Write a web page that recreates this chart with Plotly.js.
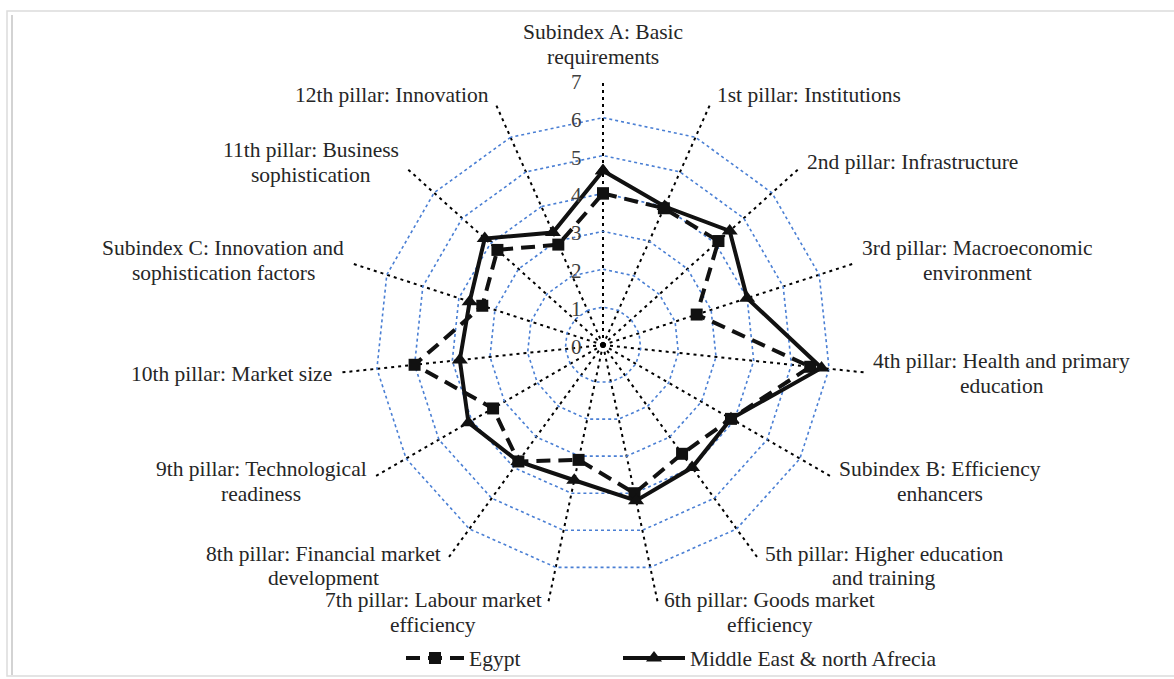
<!DOCTYPE html>
<html>
<head>
<meta charset="utf-8">
<script src="https://cdn.plot.ly/plotly-3.0.1.min.js"></script>
<style>
html,body{margin:0;padding:0;background:#fff;}
#chart{width:1174px;height:679px;}
</style>
</head>
<body>
<div id="chart"></div>
<script>
// ---- data ----
const categories = [
  "Subindex A: Basic requirements",
  "1st pillar: Institutions",
  "2nd pillar: Infrastructure",
  "3rd pillar: Macroeconomic environment",
  "4th pillar: Health and primary education",
  "Subindex B: Efficiency enhancers",
  "5th pillar: Higher education and training",
  "6th pillar: Goods market efficiency",
  "7th pillar: Labour market efficiency",
  "8th pillar: Financial market development",
  "9th pillar: Technological readiness",
  "10th pillar: Market size",
  "Subindex C: Innovation and sophistication factors",
  "11th pillar: Business sophistication",
  "12th pillar: Innovation"
];
const tickLabels = [
  ["Subindex A: Basic", "requirements"],
  ["1st pillar: Institutions"],
  ["2nd pillar: Infrastructure"],
  ["3rd pillar: Macroeconomic", "environment"],
  ["4th pillar: Health and primary", "education"],
  ["Subindex B: Efficiency", "enhancers"],
  ["5th pillar: Higher education", "and training"],
  ["6th pillar: Goods market", "efficiency"],
  ["7th pillar: Labour market", "efficiency"],
  ["8th pillar: Financial market", "development"],
  ["9th pillar: Technological", "readiness"],
  ["10th pillar: Market size"],
  ["Subindex C: Innovation and", "sophistication factors"],
  ["11th pillar: Business", "sophistication"],
  ["12th pillar: Innovation"]
];
const egypt = [4.0, 3.95, 4.1, 2.6, 5.5, 3.9, 3.55, 4.0, 3.1, 3.8, 3.35, 5.0, 3.35, 3.75, 2.9];
const mena  = [4.6, 4.0, 4.5, 4.0, 5.8, 3.9, 4.0, 4.2, 3.65, 3.8, 4.1, 3.8, 3.7, 4.2, 3.25];
const radialTicks = [0, 1, 2, 3, 4, 5, 6, 7];
const radialMax = 7;
const seriesNames = ["Egypt", "Middle East & north Afrecia"];

// ---- layout geometry ----
const W = 1174, H = 679;
const dom = {x: [0.28705, 0.74021], y: [0.09867, 0.88218]};
const FONT = "Liberation Serif";
const FS = 21.5;
const LINE = 25;

function closed(arr){ return arr.concat([arr[0]]); }

const traces = [
  {
    type: "scatterpolar", name: seriesNames[0], legend: "legend",
    r: closed(egypt), theta: closed(categories),
    mode: "lines+markers",
    line: {color: "#111", width: 4, dash: "14px,8px"},
    marker: {symbol: "square", size: 12, color: "#111"},
    cliponaxis: false
  },
  {
    type: "scatterpolar", name: seriesNames[1], legend: "legend2",
    r: closed(mena), theta: closed(categories),
    mode: "lines+markers",
    line: {color: "#111", width: 4},
    marker: {symbol: "triangle-up", size: 14, color: "#111"},
    cliponaxis: false
  }
];

// text measuring for centred multi-line labels
const ctx = document.createElement("canvas").getContext("2d");
ctx.font = FS + "px '" + FONT + "'";
function tw(s){ return ctx.measureText(s).width; }

const N = categories.length;
const cx = (dom.x[0] + dom.x[1]) / 2 * W;
const cyUp = (dom.y[0] + dom.y[1]) / 2 * H;
const R = (dom.x[1] - dom.x[0]) * W / 2;
const annotations = [];
tickLabels.forEach((lines, i) => {
  const a = i * 2 * Math.PI / N;
  const s = Math.sin(a), c = Math.cos(a);
  const bw = Math.max.apply(null, lines.map(tw));
  const n = lines.length;
  let xc, yc; // block centre in px (x from left, y from bottom)
  if (Math.abs(s) < 0.05) {
    xc = cx;
    yc = cyUp + (R + 10) + n * LINE / 2;
  } else {
    const edge = cx + R * s + 6 * Math.sign(s);
    xc = edge + Math.sign(s) * bw / 2;
    yc = cyUp + (R + 8) * c;
  }
  lines.forEach((t, k) => {
    const y = yc + ((n - 1) / 2 - k) * LINE;
    annotations.push({
      xref: "paper", yref: "paper", x: xc / W, y: y / H,
      xanchor: "center", yanchor: "middle", text: t, showarrow: false,
      font: {family: FONT, size: FS, color: "#262626"}
    });
  });
});
// radial value labels, left of the vertical spoke
radialTicks.forEach(v => {
  annotations.push({
    xref: "paper", yref: "paper", x: (cx - 19) / W, y: (cyUp + R * v / radialMax - 2) / H,
    xanchor: "right", yanchor: "middle", text: String(v), showarrow: false,
    font: {family: FONT, size: 21, color: "#404040"}
  });
});

const legendCommon = {
  orientation: "h", y: 19 / H, yanchor: "middle", xanchor: "left",
  font: {family: FONT, size: FS, color: "#262626"},
  bgcolor: "rgba(0,0,0,0)"
};

const layout = {
  width: W, height: H,
  margin: {l: 0, r: 0, t: 0, b: 0},
  paper_bgcolor: "#fff",
  font: {family: FONT, size: FS, color: "#262626"},
  showlegend: true,
  legend: Object.assign({}, legendCommon, {x: 401 / W, itemwidth: 58}),
  legend2: Object.assign({}, legendCommon, {x: 618 / W, itemwidth: 62}),
  polar: {
    domain: dom,
    bgcolor: "rgba(0,0,0,0)",
    gridshape: "linear",
    angularaxis: {
      rotation: 90, direction: "clockwise",
      categoryorder: "array", categoryarray: categories,
      showticklabels: false, ticks: "", showline: false,
      gridcolor: "#000", gridwidth: 2, griddash: "3px,4px"
    },
    radialaxis: {
      range: [0, radialMax], tickvals: radialTicks,
      angle: 90, showline: false, ticks: "", showticklabels: false,
      gridcolor: "#4a7fd4", gridwidth: 1.6, griddash: "dot"
    }
  },
  annotations: annotations,
  shapes: [
    {type: "rect", xref: "paper", yref: "paper", x0: 7 / W, x1: 1.01, y0: 1 / H, y1: (H - 11) / H,
     line: {color: "#dcdcdc", width: 1.5}},
    {type: "line", xref: "paper", yref: "paper", x0: 12 / W, x1: 12 / W, y0: 2 / H, y1: (H - 15) / H,
     line: {color: "#c4c4c4", width: 1.5}}
  ]
};

Plotly.newPlot("chart", traces, layout, {displayModeBar: false, staticPlot: true});
</script>
</body>
</html>
